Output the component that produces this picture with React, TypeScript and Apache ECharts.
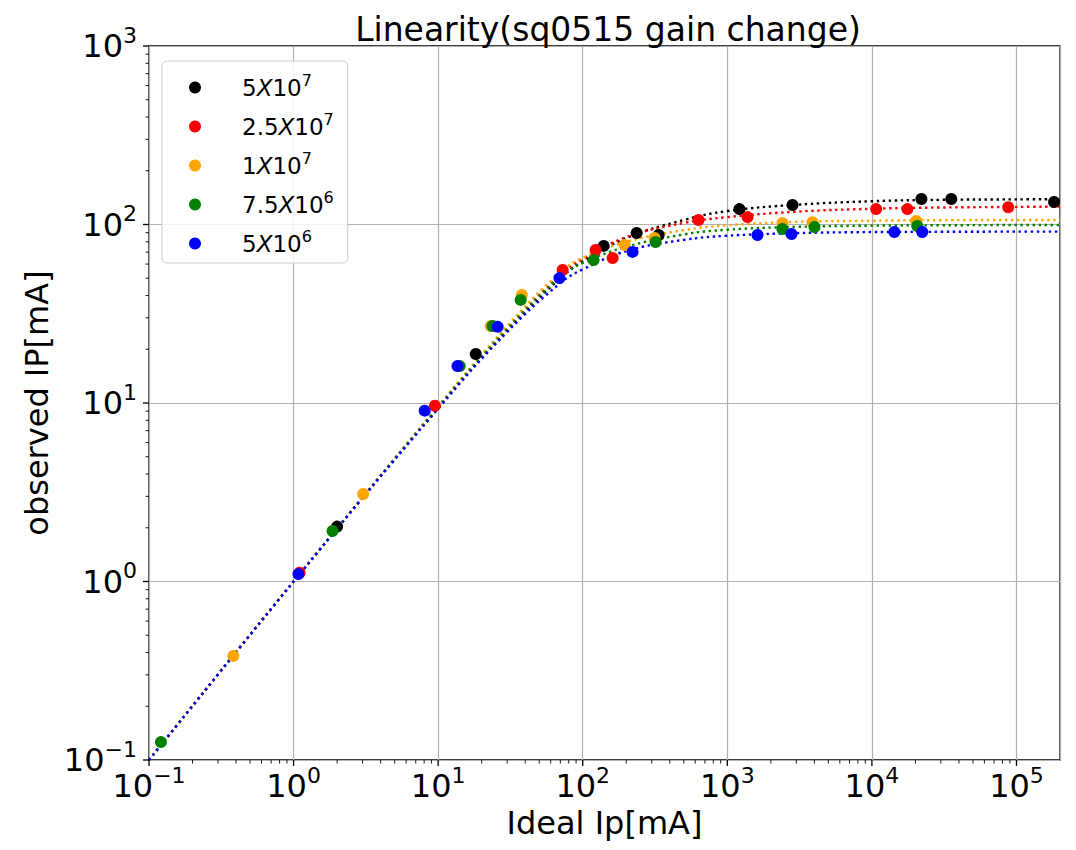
import React, { useEffect, useRef } from "react";
import * as echarts from "echarts";

// ---- data ----
const seriesNames = ["5X10^7", "2.5X10^7", "1X10^7", "7.5X10^6", "5X10^6"];
const seriesColors = ["#000000", "#ff0000", "#ffa500", "#008000", "#0000ff"];

const pointsBlack = [[2.0, 2.03], [18.2, 18.8], [139.6, 75.9], [236, 89.6], [335, 87.4], [1213, 122], [2825, 128.5], [22000, 139], [35400, 139], [182000, 133.7]];
const pointsRed = [[1.1, 1.12], [9.5, 9.66], [72.6, 55.6], [122.7, 72], [161, 64.9], [632, 106], [1380, 110], [10700, 122], [17600, 122], [87700, 125]];
const pointsOrange = [[0.383, 0.383], [3.03, 3.09], [23.1, 27], [37.9, 40.3], [195, 76.7], [314, 84], [2404, 101.8], [3880, 103], [20300, 104.7]];
const pointsGreen = [[0.121, 0.126], [1.86, 1.92], [14.1, 16.1], [23.8, 27], [37.2, 37.8], [118.9, 63.2], [319, 79.8], [2404, 94.4], [4010, 96.8], [20600, 98]];
const pointsBlue = [[1.08, 1.1], [8.07, 9.06], [13.6, 16.1], [25.8, 26.7], [69, 50.1], [221, 70.2], [1618, 87.3], [2780, 88.5], [14300, 90.8], [22300, 90.8]];

const fitX = [0.1, 1, 10, 30, 70, 100, 200, 500, 1000, 3000, 10000, 30000, 100000, 200000];
const fitBlack = [0.1, 1, 9.4, 25.5, 50, 62, 84, 106, 119, 129, 135, 137.5, 138.3, 138.5];
const fitRed = [0.1, 1, 9.5, 26, 52, 64, 85, 102, 110, 118, 122.5, 124.5, 125.5, 126];
const fitOrange = [0.1, 1, 9.6, 27, 54, 65, 80, 93, 99, 103.5, 105, 105.7, 106, 106];
const fitGreen = [0.1, 1, 9.5, 26, 51, 61, 75, 88, 93.5, 97, 98.5, 99, 99.3, 99.3];
const fitBlue = [0.1, 1, 9.3, 25, 47, 56, 71, 82, 86.5, 89.5, 90.7, 91, 91.2, 91.2];

const xMajorTicks = [0.1, 1, 10, 100, 1000, 10000, 100000];
const yMajorTicks = [0.1, 1, 10, 100, 1000];
const xMin = 0.1, xMax = 200000, yMin = 0.1, yMax = 1000;

const titleText = "Linearity(sq0515 gain change)";
const xName = "Ideal Ip[mA]";
const yName = "observed IP[mA]";

const allPoints = [pointsBlack, pointsRed, pointsOrange, pointsGreen, pointsBlue];
const allFits = [fitBlack, fitRed, fitOrange, fitGreen, fitBlue];

const FONT = "DejaVu Sans";

function minorTicks(majors: number[], max: number) {
  const out: number[] = [];
  for (const m of majors) {
    for (let k = 2; k <= 9; k++) {
      const v = m * k;
      if (v < max) out.push(v);
    }
  }
  return out;
}

function legendRich(name: string) {
  const [a, rest] = name.split("X");
  const [b, e] = rest.split("^");
  return `{n|${a}}{i|X}{n|${b}}{s|${e}}`;
}

function tickLabel(v: number) {
  const e = Math.log10(v);
  const r = Math.round(e);
  if (Math.abs(e - r) > 1e-6) return "";
  const es = r < 0 ? "\u2212" + Math.abs(r) : String(r);
  return `{b|10}{e|${es}}`;
}

const tickRich = {
  b: { fontSize: 32, fontFamily: FONT, color: "#000", lineHeight: 44 },
  e: { fontSize: 22, fontFamily: FONT, color: "#000", lineHeight: 22, verticalAlign: "top" },
};

export default function App() {
  const ref = useRef<HTMLDivElement>(null);
  useEffect(() => {
    if (!ref.current) return;
    const chart = echarts.init(ref.current, undefined, { renderer: "svg" });

    const tickData: number[][] = [];
    xMajorTicks.forEach((v) => tickData.push([v, yMin, 0]));
    minorTicks(xMajorTicks, xMax).forEach((v) => tickData.push([v, yMin, 1]));
    yMajorTicks.forEach((v) => tickData.push([xMin, v, 2]));
    minorTicks(yMajorTicks, yMax).forEach((v) => tickData.push([xMin, v, 3]));

    const series: any[] = [];
    seriesNames.forEach((name, i) => {
      series.push({
        name: "fit " + name,
        type: "line",
        data: fitX.map((x, j) => [x, allFits[i][j]]),
        smooth: 0.4,
        symbol: "none",
        lineStyle: { color: seriesColors[i], width: 2.4, type: [2.4, 3.6] },
        z: 2,
        silent: true,
      });
    });
    seriesNames.forEach((name, i) => {
      series.push({
        name,
        type: "scatter",
        data: allPoints[i],
        symbol: "circle",
        symbolSize: 12,
        itemStyle: { color: seriesColors[i], opacity: 1 },
        z: 3,
      });
    });
    series.push({
      type: "custom",
      silent: true,
      clip: false,
      z: 5,
      data: tickData,
      encode: { x: 0, y: 1 },
      renderItem: (params: any, api: any) => {
        const p = api.coord([api.value(0), api.value(1)]);
        const kind = api.value(2);
        const major = kind === 0 || kind === 2;
        const len = major ? 6 : 3.5;
        const lw = major ? 1.3 : 0.9;
        if (kind <= 1) {
          return { type: "line", shape: { x1: p[0], y1: p[1], x2: p[0], y2: p[1] + len }, style: { stroke: "#000", lineWidth: lw } };
        }
        return { type: "line", shape: { x1: p[0] - len, y1: p[1], x2: p[0], y2: p[1] }, style: { stroke: "#000", lineWidth: lw } };
      },
    });

    chart.setOption({
      animation: false,
      backgroundColor: "#ffffff",
      textStyle: { fontFamily: FONT },
      grid: { left: 149, right: 16, top: 46, bottom: 90, show: true, borderColor: "#000", borderWidth: 1.3, backgroundColor: "transparent" },
      title: {
        text: titleText,
        left: 603,
        top: 8,
        textAlign: "center",
        textStyle: { fontFamily: FONT, fontSize: 33, fontWeight: "normal", color: "#000" },
      },
      legend: {
        data: seriesNames,
        orient: "vertical",
        left: 162,
        top: 61,
        padding: [11, 14, 8, 27],
        itemWidth: 12,
        itemHeight: 12,
        itemGap: 12,
        icon: "circle",
        backgroundColor: "rgba(255,255,255,0.85)",
        borderColor: "#cccccc",
        borderWidth: 1,
        borderRadius: 5,
        formatter: (n: string) => legendRich(n),
        textStyle: {
          padding: [0, 0, 0, 36],
          rich: {
            n: { fontSize: 23, fontFamily: FONT, color: "#000", lineHeight: 31 },
            i: { fontSize: 23, fontFamily: FONT, fontStyle: "italic", color: "#000", lineHeight: 31 },
            s: { fontSize: 16, fontFamily: FONT, color: "#000", lineHeight: 16, verticalAlign: "top" },
          },
        },
      },
      xAxis: {
        type: "log",
        logBase: 10,
        min: xMin,
        max: xMax,
        name: xName,
        nameLocation: "middle",
        nameGap: 46,
        nameTextStyle: { fontFamily: FONT, fontSize: 32, color: "#000", verticalAlign: "top" },
        axisLine: { show: false },
        axisTick: { show: false },
        splitLine: { show: true, lineStyle: { color: "#b0b0b0", width: 1.2 } },
        axisLabel: { margin: 4, formatter: tickLabel, rich: tickRich, color: "#000" },
      },
      yAxis: {
        type: "log",
        logBase: 10,
        min: yMin,
        max: yMax,
        name: yName,
        nameLocation: "middle",
        nameGap: 96,
        nameRotate: 90,
        nameTextStyle: { fontFamily: FONT, fontSize: 32, color: "#000" },
        axisLine: { show: false },
        axisTick: { show: false },
        splitLine: { show: true, lineStyle: { color: "#b0b0b0", width: 1.2 } },
        axisLabel: { margin: 12, formatter: tickLabel, rich: tickRich, color: "#000" },
      },
      series,
    });
    return () => chart.dispose();
  }, []);
  return <div ref={ref} style={{ position: "absolute", left: 0, top: 0, width: 1076, height: 850 }} />;
}
